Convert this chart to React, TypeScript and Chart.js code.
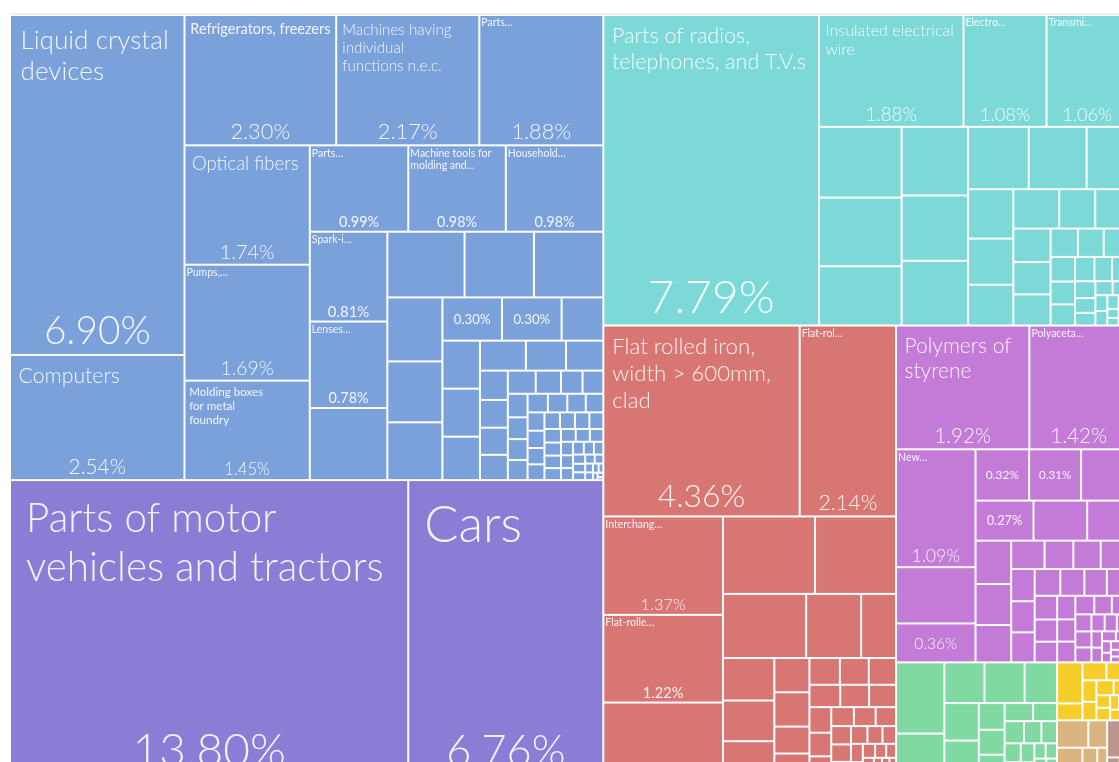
import React, { useEffect, useRef } from "react";
import { Chart, registerables } from "chart.js";
Chart.register(...registerables);

// ---------- data (shares of total, %) ----------
const machinesValues = [6.90, 2.54, 2.30, 2.17, 1.88, 1.74, 1.69, 1.45, 0.99, 0.98, 0.98, 0.81, 0.78, 0.65, 0.59, 0.53, 0.53, 0.41, 0.39, 0.37, 0.30, 0.30, 0.21, 0.21, 0.21, 0.19, 0.16, 0.14, 0.13, 0.095, 0.09, 0.088, 0.082, 0.075, 0.068, 0.058, 0.056, 0.054, 0.05, 0.048, 0.046, 0.044, 0.042, 0.040, 0.038, 0.036, 0.034, 0.032, 0.031, 0.030, 0.029, 0.028, 0.027, 0.026, 0.025, 0.024, 0.023, 0.022, 0.021, 0.020, 0.019, 0.018, 0.017, 0.016, 0.015, 0.014, 0.013, 0.012, 0.011, 0.010, 0.009, 0.008, 0.007, 0.006, 0.005, 0.004, 0.003, 0.002];
const machinesLabels = ["Liquid crystal\ndevices", "Computers", "Refrigerators, freezers", "Machines having\nindividual\nfunctions n.e.c.", "Parts…", "Optical fibers", "Pumps,…", "Molding boxes\nfor metal\nfoundry", "Parts…", "Machine tools for\nmolding and…", "Household…", "Spark-i…", "Lenses…", null, null, null, null, null, null, null, "", ""];

const transportValues = [13.80, 6.76];
const transportLabels = ["Parts of motor\nvehicles and tractors", "Cars"];

const electronicsValues = [7.79, 1.88, 1.08, 1.06, 0.68, 0.66, 0.57, 0.53, 0.505, 0.50, 0.44, 0.42, 0.30, 0.26, 0.243, 0.215, 0.21, 0.165, 0.15, 0.145, 0.14, 0.135, 0.09, 0.085, 0.08, 0.07, 0.065, 0.06, 0.055, 0.05, 0.045, 0.04, 0.035, 0.03, 0.028, 0.025, 0.022, 0.02, 0.018, 0.015, 0.012, 0.01, 0.008, 0.006, 0.004];
const electronicsLabels = ["Parts of radios,\ntelephones, and T.V.s", "Insulated electrical\nwire", "Electro…", "Transmi…"];

const metalsValues = [4.36, 2.14, 1.37, 1.22, 1.05, 0.83, 0.73, 0.62, 0.41, 0.26, 0.254, 0.243, 0.22, 0.14, 0.14, 0.11, 0.10, 0.095, 0.09, 0.085, 0.08, 0.075, 0.07, 0.065, 0.06, 0.055, 0.05, 0.048, 0.045, 0.042, 0.04, 0.037, 0.034, 0.031, 0.028, 0.025, 0.022, 0.02, 0.018, 0.016, 0.014, 0.012, 0.01, 0.009, 0.008, 0.007, 0.006, 0.005, 0.004, 0.003];
const metalsLabels = ["Flat rolled iron,\nwidth > 600mm,\nclad", "Flat-rol…", "Interchang…", "Flat-rolle…"];

const plasticsValues = [1.92, 1.42, 1.09, 0.52, 0.36, 0.32, 0.31, 0.28, 0.27, 0.25, 0.19, 0.18, 0.17, 0.155, 0.11, 0.095, 0.09, 0.09, 0.088, 0.085, 0.082, 0.08, 0.075, 0.07, 0.066, 0.062, 0.058, 0.054, 0.05, 0.047, 0.044, 0.041, 0.038, 0.035, 0.032, 0.03, 0.028, 0.026, 0.024, 0.022, 0.02, 0.018, 0.016, 0.014, 0.012, 0.01, 0.009, 0.008, 0.007, 0.006, 0.005, 0.004, 0.003];
const plasticsLabels = ["Polymers of\nstyrene", "Polyaceta…", "New…", null, "", "", "", null, ""];

const chemicalsValues = [0.40, 0.25, 0.19, 0.19, 0.153, 0.15, 0.15, 0.08, 0.075, 0.07, 0.06, 0.05, 0.05, 0.045, 0.04, 0.035, 0.03, 0.03, 0.025, 0.02, 0.02, 0.015, 0.012, 0.01, 0.008, 0.006];
const mineralsValues = [0.122, 0.05, 0.05, 0.045, 0.035, 0.03, 0.03, 0.025, 0.02, 0.02, 0.015, 0.015, 0.012, 0.01];
const foodValues = [0.10, 0.06, 0.05, 0.04, 0.03, 0.02, 0.015, 0.012, 0.01];
const stoneValues = [0.09, 0.03, 0.015, 0.005];

type Section = { name: string; color: string; values: number[]; labels: (string | null)[] };

const sections: Section[] = [
  { name: "Machines", color: "#7AA1D9", values: machinesValues, labels: machinesLabels },
  { name: "Transportation", color: "#8B7CD6", values: transportValues, labels: transportLabels },
  { name: "Electronics", color: "#7DD9D8", values: electronicsValues, labels: electronicsLabels },
  { name: "Metals", color: "#D87674", values: metalsValues, labels: metalsLabels },
  { name: "Plastics and Rubbers", color: "#C47BD7", values: plasticsValues, labels: plasticsLabels },
  { name: "Chemical Products", color: "#7FD9A1", values: chemicalsValues, labels: [] },
  { name: "Mineral Products", color: "#F5CE2B", values: mineralsValues, labels: [] },
  { name: "Foodstuffs", color: "#DAB57F", values: foodValues, labels: [] },
  { name: "Stone and Glass", color: "#BC968B", values: stoneValues, labels: [] },
];

const FONT = 'Lato, "Source Sans Pro", "Noto Sans", sans-serif';
const TEXT = "rgba(255,255,255,0.9)";
const font = (s: number) => `${s >= 15 ? 300 : 400} ${s}px ${FONT}`;

type Rect = { x0: number; y0: number; x1: number; y1: number };

// squarified treemap (d3-style, ratio 1)
function squarify(values: number[], x0: number, y0: number, x1: number, y1: number, ratio = 1): Rect[] {
  const out: Rect[] = new Array(values.length);
  const n = values.length;
  let value = values.reduce((a, b) => a + b, 0);
  let i0 = 0, i1 = 0;
  while (i0 < n) {
    const dx = x1 - x0, dy = y1 - y0;
    let sumValue = 0;
    do sumValue = values[i1++]; while (!sumValue && i1 < n);
    let minValue = sumValue, maxValue = sumValue;
    const alpha = Math.max(dy / dx, dx / dy) / (value * ratio);
    let beta = sumValue * sumValue * alpha;
    let minRatio = Math.max(maxValue / beta, beta / minValue);
    for (; i1 < n; ++i1) {
      const nv = values[i1];
      sumValue += nv;
      if (nv < minValue) minValue = nv;
      if (nv > maxValue) maxValue = nv;
      beta = sumValue * sumValue * alpha;
      const newRatio = Math.max(maxValue / beta, beta / minValue);
      if (newRatio > minRatio) { sumValue -= nv; break; }
      minRatio = newRatio;
    }
    if (dx < dy) {
      const ny = value ? y0 + (dy * sumValue) / value : y1;
      const k = (x1 - x0) / sumValue;
      let x = x0;
      for (let i = i0; i < i1; i++) {
        const w = values[i] * k;
        out[i] = { x0: x, y0, x1: x + w, y1: ny };
        x += w;
      }
      y0 = ny;
    } else {
      const nx = value ? x0 + (dx * sumValue) / value : x1;
      const k = (y1 - y0) / sumValue;
      let y = y0;
      for (let i = i0; i < i1; i++) {
        const h = values[i] * k;
        out[i] = { x0, y0: y, x1: nx, y1: y + h };
        y += h;
      }
      x0 = nx;
    }
    value -= sumValue;
    i0 = i1;
  }
  return out;
}

const treemapPlugin = {
  id: "treemapCells",
  afterDatasetsDraw(chart: any) {
    const ctx: CanvasRenderingContext2D = chart.ctx;
    const xs = chart.scales.x, ys = chart.scales.y;
    const totals = sections.map((s) => s.values.reduce((a, b) => a + b, 0));
    const secRects = squarify(totals, xs.min, ys.min, xs.max, ys.max);
    ctx.save();
    const ca = chart.chartArea;
    ctx.fillStyle = "#efefef";
    ctx.fillRect(ca.left, ca.top - 2, ca.right - ca.left, 2);
    const labelJobs: (() => void)[] = [];
    sections.forEach((sec, si) => {
      const r = secRects[si];
      const leaves = squarify(sec.values, r.x0, r.y0, r.x1, r.y1);
      leaves.forEach((l, i) => {
        const px0 = xs.getPixelForValue(l.x0), px1 = xs.getPixelForValue(l.x1);
        const py0 = ys.getPixelForValue(l.y0), py1 = ys.getPixelForValue(l.y1);
        const left = Math.min(px0, px1), top = Math.min(py0, py1);
        const w = Math.abs(px1 - px0), h = Math.abs(py1 - py0);
        if (w > 2 && h > 2) {
          ctx.fillStyle = sec.color;
          ctx.fillRect(left + 1, top + 1, w - 2, h - 2);
        }
        const lab = sec.labels[i];
        if (lab === undefined || lab === null) return;
        const pct = sec.values[i].toFixed(2) + "%";
        labelJobs.push(() => {
          ctx.fillStyle = TEXT;
          ctx.textBaseline = "alphabetic";
          if (lab === "") {
            const s = Math.min(w / 4.5, h / 2.5, 46);
            ctx.font = font(s);
            ctx.textAlign = "center";
            ctx.fillText(pct, left + w / 2, top + h / 2 + 0.36 * s);
            return;
          }
          const lines = lab.split("\n");
          const truncated = lab.endsWith("…");
          ctx.font = `300 100px ${FONT}`;
          const widest = Math.max(...lines.map((t) => ctx.measureText(t).width)) / 100;
          let s = Math.min(w / (widest + 1.0), (0.42 * h) / (lines.length * 1.2), 0.17 * h, 56);
          if (truncated) s = Math.min(s, 10.5);
          const pad = truncated ? 2 : Math.max(3, Math.min(16, 0.4 * s));
          ctx.font = font(s);
          ctx.textAlign = "left";
          lines.forEach((t, k) => ctx.fillText(t, left + pad, top + pad + 0.9 * s + k * 1.2 * s));
          const ps = Math.min(w / 4.5, h / 6, 46);
          ctx.font = font(ps);
          ctx.textAlign = "center";
          ctx.fillText(pct, left + w / 2, top + h - Math.max(2, 0.25 * ps) - 1);
        });
      });
    });
    labelJobs.forEach((f) => f());
    ctx.restore();
  },
};

export default function App() {
  const ref = useRef<HTMLCanvasElement | null>(null);
  useEffect(() => {
    if (!ref.current) return;
    const chart = new Chart(ref.current, {
      type: "scatter",
      data: {
        datasets: sections.map((s) => ({ label: s.name, data: [], backgroundColor: s.color })),
      },
      options: {
        responsive: false,
        animation: false,
        events: [],
        layout: { padding: { left: 10, top: 15, right: 2, bottom: 2 } },
        scales: {
          x: { type: "linear", min: 0, max: 1118, display: false },
          y: { type: "linear", min: 0, max: 763, reverse: true, display: false },
        },
        plugins: { legend: { display: false }, tooltip: { enabled: false } },
      },
      plugins: [treemapPlugin],
    } as any);
    return () => chart.destroy();
  }, []);
  return (
    <div style={{ position: "fixed", left: 0, top: 0, width: "100vw", height: "100vh", overflow: "hidden", background: "#fff" }}>
      <canvas ref={ref} width={1130} height={780} style={{ display: "block" }} />
    </div>
  );
}
